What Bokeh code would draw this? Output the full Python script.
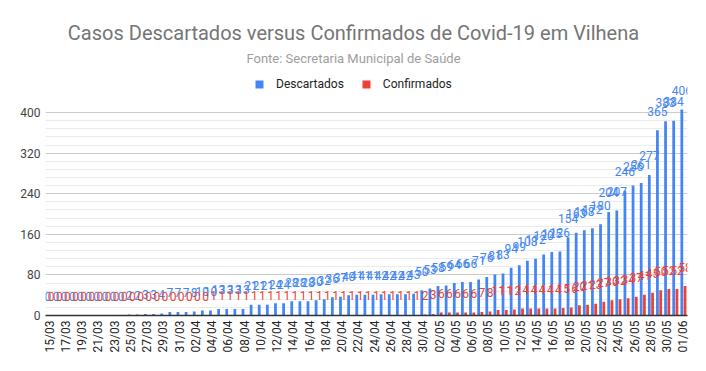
import math
import datetime
from bokeh.plotting import figure
from bokeh.models import (ColumnDataSource, Range1d, FixedTicker, Label, Legend,
                          LegendItem)
from bokeh.core.properties import value
from bokeh.transform import dodge
from bokeh.embed import file_html
from bokeh.resources import INLINE

# ---------------- data ----------------
start = datetime.date(2020, 3, 15)
dates = [(start + datetime.timedelta(days=k)).strftime("%d/%m") for k in range(79)]

descartados = [
    0, 0, 0, 0, 0, 0, 0, 0, 0, 0,          # 15/03 - 24/03
    2, 2, 3, 3, 4,                         # 25/03 - 29/03
    7, 7, 7, 8, 10, 10,                    # 30/03 - 04/04
    13, 13, 13, 13,                        # 05/04 - 08/04
    21, 21, 21, 24, 24, 28, 28, 28,        # 09/04 - 16/04
    30, 32, 36, 37, 40,                    # 17/04 - 21/04
    41, 41, 41, 42, 42, 42, 42, 43,        # 22/04 - 29/04
    50, 53, 58, 59, 64, 66, 66, 71, 76,    # 30/04 - 08/05
    81, 83, 94, 99, 108, 112, 120, 125,    # 09/05 - 16/05
    126, 154, 163, 168, 172, 180,          # 17/05 - 22/05
    204, 207, 246, 256, 261, 277,          # 23/05 - 28/05
    365, 383, 384, 406,                    # 29/05 - 01/06
]

confirmados = [
    0, 0, 0, 0, 0, 0, 0, 0, 0, 0,
    0, 0, 0, 0, 0, 0, 0, 0, 0, 0,          # 15/03 - 03/04
    1, 1, 1, 1, 1, 1, 1, 1, 1, 1,
    1, 1, 1, 1, 1, 1, 1, 1, 1, 1,
    1, 1, 1, 1, 1, 1,                      # 04/04 - 29/04
    2, 3, 6, 6, 6, 6, 6, 7, 8,             # 30/04 - 08/05
    11, 11, 12, 14, 14, 14, 14, 14,        # 09/05 - 16/05
    15, 16, 20, 21, 23, 27,                # 17/05 - 22/05
    30, 32, 34, 37, 41, 45,                # 23/05 - 28/05
    50, 52, 52, 58,                        # 29/05 - 01/06
]

series_names = ["Descartados", "Confirmados"]
y_ticks = [0, 80, 160, 240, 320, 400]

title_text = "Casos Descartados versus Confirmados de Covid-19 em Vilhena"
subtitle_text = "Fonte: Secretaria Municipal de Saúde"

# ---------------- figure ----------------
FONT = "Roboto"
BLUE = "#4285F4"
RED = "#EA4335"

n = len(dates)
idx = list(range(n))

src = ColumnDataSource(dict(
    x=idx,
    d=descartados,
    c=confirmados,
    dl=[str(v) for v in descartados],
    cl=[str(v) for v in confirmados],
))

p = figure(width=698, height=363, output_backend="svg", toolbar_location=None,
           x_range=Range1d(-0.5, n - 0.5), y_range=Range1d(0, 605),
           min_border_left=45, min_border_right=11, min_border_top=8,
           min_border_bottom=48)
p.title.visible = False
p.outline_line_color = None
p.background_fill_color = "white"
p.border_fill_color = "white"

# axes
p.xaxis.ticker = FixedTicker(ticks=list(range(0, n, 2)))
p.xaxis.major_label_overrides = {i: dates[i] for i in range(0, n, 2)}
p.xaxis.major_label_orientation = math.pi / 2
p.xaxis.major_tick_line_color = None
p.xaxis.minor_tick_line_color = None
p.xaxis.major_tick_out = 0
p.xaxis.major_tick_in = 0
p.xaxis.minor_tick_out = 0
p.xaxis.axis_line_color = "#333333"
p.xaxis.axis_line_width = 1.5
p.xaxis.major_label_standoff = 5
p.xaxis.major_label_text_font = FONT
p.xaxis.major_label_text_font_size = "12px"
p.xaxis.major_label_text_color = "#222222"

yt = FixedTicker(ticks=y_ticks,
                 minor_ticks=[v for v in range(16, 401, 16) if v % 80 != 0])
p.yaxis.ticker = yt
p.ygrid.ticker = yt
p.yaxis.axis_line_color = None
p.yaxis.major_tick_line_color = None
p.yaxis.minor_tick_line_color = None
p.yaxis.major_tick_out = 0
p.yaxis.major_tick_in = 0
p.yaxis.minor_tick_out = 0
p.yaxis.major_label_standoff = 5
p.yaxis.major_label_text_font = FONT
p.yaxis.major_label_text_font_size = "12px"
p.yaxis.major_label_text_color = "#444444"

p.xgrid.grid_line_color = None
p.ygrid.grid_line_color = "#cccccc"
p.ygrid.minor_grid_line_color = "#ebebeb"

# bars
rb = p.vbar(x=dodge("x", -0.2), top="d", width=0.34, source=src,
            fill_color=BLUE, line_color=None)
rr = p.vbar(x=dodge("x", 0.2), top="c", width=0.34, source=src,
            fill_color=RED, line_color=None)

# data labels
p.text(x=dodge("x", -0.2), y="d", text="dl", source=src,
       text_align="center", text_baseline="middle", y_offset=-19,
       text_font=value(FONT), text_font_size="12px", text_color=BLUE)
p.text(x=dodge("x", 0.2), y="c", text="cl", source=src,
       text_align="center", text_baseline="middle", y_offset=-19,
       text_font=value(FONT), text_font_size="12px", text_color=RED)

# legend
legend = Legend(items=[LegendItem(label=series_names[0], renderers=[rb]),
                       LegendItem(label=series_names[1], renderers=[rr])],
                orientation="horizontal", location=(209, 224),
                border_line_color=None, background_fill_alpha=0,
                padding=0, margin=0, spacing=17, label_standoff=12,
                glyph_width=10, glyph_height=10,
                label_text_font=FONT, label_text_font_size="12px",
                label_text_color="#222222")
p.add_layout(legend)

# titles
p.add_layout(Label(x=308, y=283, x_units="screen", y_units="screen",
                   text=title_text, text_align="center", text_baseline="middle",
                   text_font=FONT, text_font_size="20px", text_color="#757575"))
p.add_layout(Label(x=308, y=257, x_units="screen", y_units="screen",
                   text=subtitle_text, text_align="center", text_baseline="middle",
                   text_font=FONT, text_font_size="13px", text_color="#9e9e9e"))

open("out.html", "w").write(file_html(p, INLINE))
